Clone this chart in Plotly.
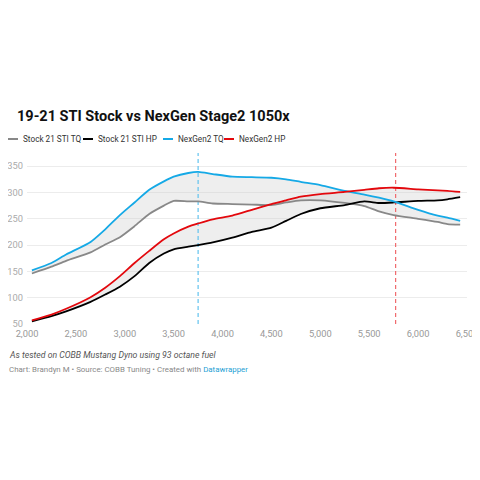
import plotly.graph_objects as go

# dyno data
RPM = [2050, 2250, 2400, 2650, 2800, 2950, 3100, 3250, 3400, 3500, 3650, 3750, 3900,
       4100, 4300, 4500, 4650, 4800, 5000, 5250, 5450, 5600, 5750, 6000, 6200, 6300, 6430]

STOCK_TQ = [146, 159, 170, 186, 201, 215, 236, 259, 275, 284, 283, 283, 279,
            278, 277, 276, 281, 285, 285, 280, 274, 264, 257, 250, 244, 240, 239]
STOCK_HP = [55, 65, 74, 92, 106, 121, 141, 166, 184, 192, 197, 200, 205,
            214, 225, 233, 246, 259, 270, 276, 283, 280, 281, 284, 285, 287, 291]
NEXGEN_TQ = [152, 166, 182, 206, 230, 257, 281, 305, 321, 330, 337, 339, 335,
             330, 329, 328, 325, 320, 314, 303, 296, 290, 283, 267, 256, 252, 246]
NEXGEN_HP = [57, 68, 79, 101, 119, 141, 166, 189, 211, 222, 235, 241, 249,
             256, 267, 278, 285, 292, 297, 301, 305, 308, 309, 306, 304, 303, 301]

MARKER_RPM = [3750, 5770]
MARKER_COLORS = ["#62c3ee", "#f06a6d"]

X_TICKS = [2000, 2500, 3000, 3500, 4000, 4500, 5000, 5500, 6000, 6500]
Y_TICKS = [50, 100, 150, 200, 250, 300, 350]

SERIES = [
    ("Stock 21 STI TQ", STOCK_TQ, "#888888"),
    ("Stock 21 STI HP", STOCK_HP, "#000000"),
    ("NexGen2 TQ", NEXGEN_TQ, "#15a9e6"),
    ("NexGen2 HP", NEXGEN_HP, "#e3080d"),
]

FONT = "Roboto"
FILL = "rgba(205,205,205,0.35)"

# the page body adds 8px, so target pixels are shifted back by OFF
OFF = 8
L, R, T, B = 27 - OFF, 467 - OFF, 153 - OFF, 324 - OFF


def px(x):
    return (x - OFF - L) / (R - L)


def py(y):
    return (B - (y - OFF)) / (B - T)


fig = go.Figure()

# shaded areas between stock and nexgen curves
for low, high in [(STOCK_TQ, NEXGEN_TQ), (STOCK_HP, NEXGEN_HP)]:
    fig.add_trace(go.Scatter(x=RPM, y=low, mode="lines", line=dict(width=0),
                             showlegend=False, hoverinfo="skip"))
    fig.add_trace(go.Scatter(x=RPM, y=high, mode="lines", line=dict(width=0),
                             fill="tonexty", fillcolor=FILL,
                             showlegend=False, hoverinfo="skip"))

for rpm, col in zip(MARKER_RPM, MARKER_COLORS):
    fig.add_trace(go.Scatter(x=[rpm, rpm], y=[50, 375], mode="lines",
                             line=dict(color=col, width=1.2, dash="4px,3px"),
                             showlegend=False, hoverinfo="skip"))

for name, vals, col in SERIES:
    fig.add_trace(go.Scatter(x=RPM, y=vals, name=name, mode="lines",
                             line=dict(color=col, width=1.8, shape="spline", smoothing=0.6),
                             showlegend=False))

# hand-made legend with short swatches like the original
legend_pos = [(8, 21), (83, 96), (163, 176), (224, 237)]
for (lx, tx), (name, vals, col) in zip(legend_pos, SERIES):
    fig.add_shape(type="line", xref="paper", yref="paper",
                  x0=px(lx), x1=px(lx + 10), y0=py(139), y1=py(139),
                  line=dict(color=col, width=2))
    fig.add_annotation(text=name, xref="paper", yref="paper", x=px(tx), y=py(139),
                       xanchor="left", yanchor="middle", showarrow=False,
                       font=dict(family=FONT, size=8.2, color="#333333"))

fig.add_annotation(text="<b>19-21 STI Stock vs NexGen Stage2 1050x</b>",
                   xref="paper", yref="paper", x=px(15), y=py(116),
                   xanchor="left", yanchor="middle", showarrow=False,
                   font=dict(family=FONT, size=14.5, color="#111111"))

fig.add_annotation(text="<i>As tested on COBB Mustang Dyno using 93 octane fuel</i>",
                   xref="paper", yref="paper", x=px(7), y=py(355),
                   xanchor="left", yanchor="middle", showarrow=False,
                   font=dict(family=FONT, size=8.7, color="#555555"))

fig.add_annotation(text="Chart: Brandyn M • Source: COBB Tuning • Created with "
                        "<span style='color:#1d9fd4'>Datawrapper</span>",
                   xref="paper", yref="paper", x=px(7), y=py(369),
                   xanchor="left", yanchor="middle", showarrow=False,
                   font=dict(family=FONT, size=7.9, color="#888888"))

fig.update_layout(
    width=480, height=480,
    margin=dict(l=L, r=480 - R, t=T, b=480 - B),
    paper_bgcolor="white", plot_bgcolor="white",
    font=dict(family=FONT, size=10, color="#999999"),
    xaxis=dict(range=[2000, 6500], tickvals=X_TICKS, tickformat=",",
               showgrid=False, zeroline=False, showline=False, ticks="",
               automargin=False, ticklabelstandoff=3,
               tickfont=dict(size=9.3, color="#999999")),
    yaxis=dict(range=[50, 375], tickvals=Y_TICKS, showgrid=True,
               gridcolor="#ececec", gridwidth=1, zeroline=False, showline=False,
               ticks="", ticklabelstandoff=3, automargin=False,
               tickfont=dict(size=9.3, color="#aaaaaa")),
)

fig.write_html("out.html")
